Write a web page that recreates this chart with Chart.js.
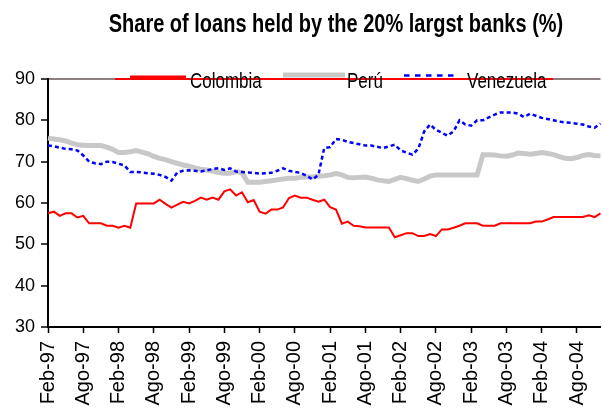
<!DOCTYPE html>
<html>
<head>
<meta charset="utf-8">
<script src="https://cdn.jsdelivr.net/npm/chart.js@4/dist/chart.umd.min.js"></script>
<style>
  html, body { margin: 0; padding: 0; background: #fff; }
  #wrap { width: 603px; height: 408px; }
</style>
</head>
<body>
<div id="wrap"><canvas id="c" width="603" height="408"></canvas></div>
<script>
// ── dane ─────────────────────────────────────────
const mesesNombres = ['Ene','Feb','Mar','Abr','May','Jun','Jul','Ago','Sep','Oct','Nov','Dic'];
const inicioMes = 1, inicioAnio = 1997, numMeses = 95;   // Feb-97 .. Dic-04

const colombia = [
  57.5, 57.9, 56.9, 57.5, 57.5, 56.5, 56.9, 55.1, 55.1, 55.1,
  54.5, 54.5, 54.0, 54.5, 54.0, 59.9, 59.9, 59.9, 59.9, 60.8,
  59.8, 58.9, 59.6, 60.3, 59.9, 60.5, 61.3, 60.8, 61.3, 60.8,
  62.8, 63.3, 61.8, 62.6, 60.2, 60.7, 57.9, 57.4, 58.4, 58.4,
  58.9, 61.2, 61.8, 61.3, 61.3, 60.8, 60.3, 60.8, 59.0, 58.4,
  55.0, 55.5, 54.5, 54.4, 54.1, 54.1, 54.1, 54.1, 54.1, 51.7,
  52.2, 52.7, 52.7, 52.0, 52.0, 52.5, 52.0, 53.6, 53.6, 54.0,
  54.5, 55.1, 55.1, 55.1, 54.5, 54.5, 54.5, 55.1, 55.1, 55.1,
  55.1, 55.1, 55.1, 55.5, 55.5, 56.0, 56.6, 56.6, 56.6, 56.6,
  56.6, 56.6, 57.0, 56.6, 57.5
];

const peru = [
  75.7, 75.5, 75.3, 75.0, 74.5, 74.1, 74.0, 73.9, 73.9, 73.9,
  73.5, 73.0, 72.2, 72.2, 72.4, 72.7, 72.3, 71.9, 71.3, 70.8,
  70.5, 70.0, 69.6, 69.2, 68.9, 68.5, 68.2, 68.0, 67.7, 67.4,
  67.2, 67.2, 67.6, 67.3, 65.0, 65.0, 65.0, 65.2, 65.4, 65.6,
  65.8, 66.0, 66.0, 66.2, 66.3, 66.3, 66.5, 66.6, 66.8, 67.1,
  66.8, 66.2, 66.1, 66.2, 66.3, 66.0, 65.6, 65.4, 65.2, 65.7,
  66.2, 65.9, 65.5, 65.2, 65.8, 66.5, 66.8, 66.8, 66.8, 66.8,
  66.8, 66.8, 66.8, 66.8, 71.7, 71.7, 71.6, 71.4, 71.3, 71.6,
  72.1, 72.0, 71.8, 72.0, 72.2, 72.0, 71.7, 71.2, 70.8, 70.7,
  71.0, 71.5, 71.7, 71.5, 71.4
];

const venezuela = [
  73.9, 73.7, 73.4, 73.1, 73.0, 72.7, 71.5, 70.0, 69.6, 69.4,
  70.0, 69.9, 69.5, 69.1, 67.5, 67.5, 67.4, 67.2, 67.1, 66.8,
  66.3, 65.4, 67.4, 67.8, 67.9, 67.8, 67.6, 67.9, 68.2, 68.4,
  68.0, 68.4, 67.6, 67.5, 67.4, 67.3, 67.1, 67.2, 67.3, 67.8,
  68.4, 67.8, 67.5, 67.3, 66.6, 65.7, 66.8, 73.3, 73.5, 75.5,
  75.3, 74.8, 74.5, 74.2, 73.9, 73.9, 73.6, 73.3, 73.7, 74.1,
  72.7, 72.2, 71.7, 73.1, 77.3, 79.0, 77.7, 77.0, 76.3, 77.3,
  80.0, 79.0, 78.7, 80.0, 80.0, 80.7, 81.4, 81.9, 81.9, 81.9,
  81.6, 80.8, 81.6, 81.1, 80.6, 80.3, 80.0, 79.7, 79.5, 79.4,
  79.2, 79.0, 78.5, 78.2, 79.2
];

const yMin = 30, yMax = 90, yPaso = 10;
const titulo = 'Share of loans held by the 20% largst banks (%)';

// etykiety miesięczne: Feb-97, Mar-97, ...
const etiquetas = [];
for (let i = 0; i < numMeses; i++) {
  const m = (inicioMes + i) % 12;
  const a = inicioAnio + Math.floor((inicioMes + i) / 12);
  etiquetas.push(mesesNombres[m] + '-' + String(a % 100).padStart(2, '0'));
}

// ── style ────────────────────────────────────────
const FONT = "'Liberation Sans', Arial, sans-serif";

const series = [
  { label: 'Colombia',  data: colombia,  borderColor: '#ff0000', borderWidth: 2,   order: 0 },
  { label: 'Perú',      data: peru,      borderColor: '#c8c8c8', borderWidth: 5,   order: 2 },
  { label: 'Venezuela', data: venezuela, borderColor: '#0000ff', borderWidth: 2.5, order: 1, borderDash: [4, 3] }
];

// tekst rozciągnięty w pionie (oryginał jest "wysoki")
function tekstWysoki(ctx, txt, x, y, font, sy, align) {
  ctx.save();
  ctx.font = font;
  ctx.textAlign = align;
  ctx.textBaseline = 'alphabetic';
  ctx.translate(x, y);
  ctx.scale(1, sy);
  ctx.fillText(txt, 0, 0);
  ctx.restore();
}

// tytuł + legenda nałożona na górną krawędź wykresu
const nakladka = {
  id: 'nakladka',
  afterDatasetsDraw(chart) {
    const ctx = chart.ctx;
    const top = chart.chartArea.top;
    ctx.save();
    ctx.fillStyle = '#000';
    tekstWysoki(ctx, titulo, 336, 32, "bold 20px " + FONT, 1.3, 'center');

    // czerwona ramka legendy
    ctx.strokeStyle = '#ff0000';
    ctx.lineWidth = 2;
    ctx.beginPath(); ctx.moveTo(115, top); ctx.lineTo(553, top); ctx.stroke();

    const pozycje = [
      { x0: 130, x1: 186, y: top - 2,   tx: 190 },
      { x0: 283, x1: 345, y: top - 4,   tx: 347 },
      { x0: 404, x1: 455, y: top - 3.5, tx: 467 }
    ];
    series.forEach((s, i) => {
      const p = pozycje[i];
      ctx.strokeStyle = s.borderColor;
      ctx.lineWidth = i === 0 ? 3 : s.borderWidth;
      ctx.setLineDash(s.borderDash ? [5.5, 5.5] : []);
      ctx.beginPath(); ctx.moveTo(p.x0, p.y); ctx.lineTo(p.x1, p.y); ctx.stroke();
      ctx.setLineDash([]);
      ctx.fillStyle = '#000';
      tekstWysoki(ctx, s.label, p.tx, top + 9, "17px " + FONT, 1.25, 'left');
    });
    ctx.restore();
  }
};

new Chart(document.getElementById('c'), {
  type: 'line',
  data: {
    labels: etiquetas,
    datasets: series.map(s => ({
      label: s.label,
      data: s.data,
      borderColor: s.borderColor,
      borderWidth: s.borderWidth,
      borderDash: s.borderDash || [],
      order: s.order,
      pointRadius: 0,
      tension: 0,
      fill: false
    }))
  },
  options: {
    responsive: false,
    animation: false,
    devicePixelRatio: 1,
    layout: { padding: { top: 79, left: 0, right: 0, bottom: 0 } },
    plugins: { legend: { display: false }, title: { display: false }, tooltip: { enabled: false } },
    scales: {
      x: {
        offset: false,
        border: { color: '#000', width: 2 },
        grid: {
          drawOnChartArea: false,
          tickLength: 6,
          tickWidth: 1.5,
          tickColor: c => (c.index % 6 === 0 ? '#000' : 'rgba(0,0,0,0)')
        },
        ticks: {
          autoSkip: false,
          maxRotation: 90,
          minRotation: 90,
          padding: 8,
          color: '#000',
          font: { family: FONT, size: 20 },
          callback: (v, i) => (i % 6 === 0 ? etiquetas[i] : '')
        },
        afterFit: s => { s.height = 81; s.paddingLeft = 0; s.paddingRight = 2.5; }
      },
      y: {
        min: yMin,
        max: yMax,
        border: { color: '#000', width: 2 },
        grid: {
          drawOnChartArea: true,
          lineWidth: 2,
          color: c => (c.tick && c.tick.value === yMax ? '#8c7f7f' : 'rgba(0,0,0,0)'),
          tickLength: 7,
          tickWidth: 1.5,
          tickColor: '#000'
        },
        ticks: {
          stepSize: yPaso,
          padding: 6,
          color: '#000',
          font: { family: FONT, size: 18 }
        },
        afterFit: s => { s.width = 48; }
      }
    }
  },
  plugins: [nakladka]
});
</script>
</body>
</html>
